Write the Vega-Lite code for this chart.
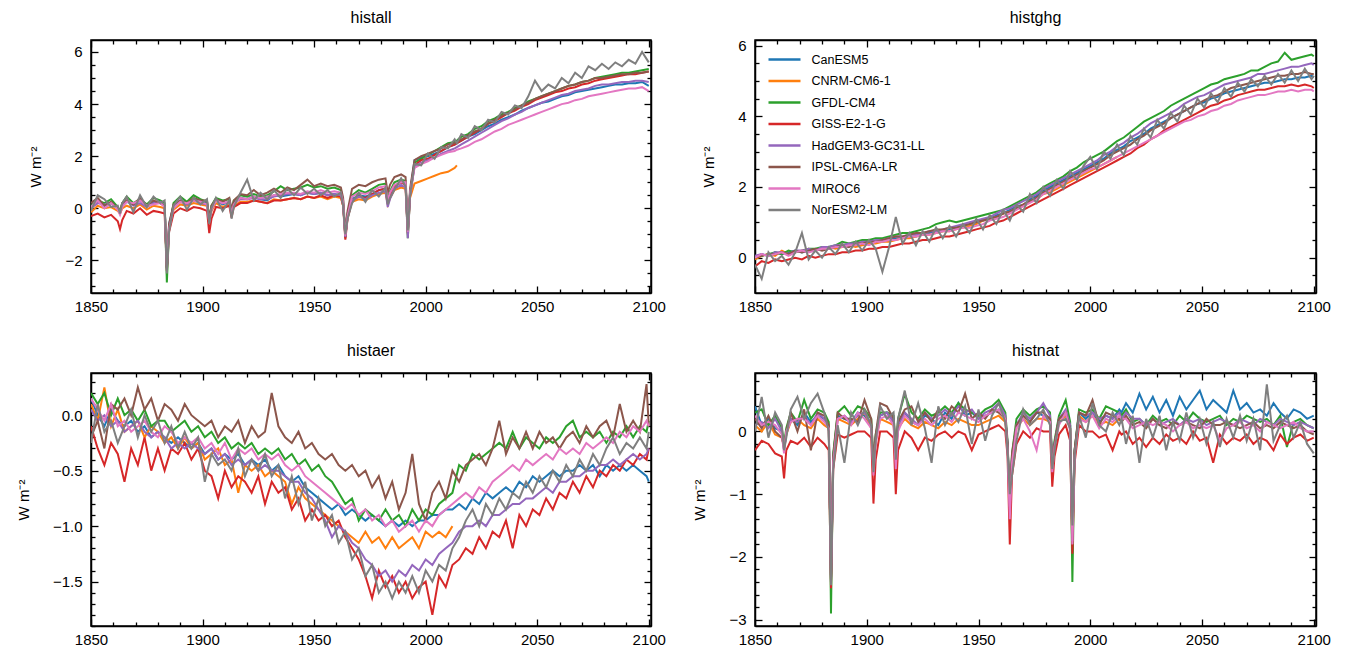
{
"$schema":"https://vega.github.io/schema/vega-lite/v6.json",
"padding":{"left":15,"top":8,"right":5,"bottom":5},
"config":{"font":"Liberation Sans","view":{"stroke":"#000","strokeWidth":1.5},
"axis":{"domainColor":"#000","domainWidth":1.5,"tickColor":"#000","tickWidth":1.3,"labelColor":"#000","labelFontSize":15,"labelFont":"Liberation Sans","titleFont":"Liberation Sans","titleFontSize":15,"titleFontWeight":"normal","titleColor":"#000","grid":false,"labelFlush":false,"labelOverlap":false},
"title":{"fontSize":16,"fontWeight":"normal","color":"#000","font":"Liberation Sans","offset":13}},
"datasets":{
"mods":[{"k":"a","model":"CanESM5"},{"k":"b","model":"CNRM-CM6-1"},{"k":"c","model":"GFDL-CM4"},{"k":"d","model":"GISS-E2-1-G"},{"k":"e","model":"HadGEM3-GC31-LL"},{"k":"f","model":"IPSL-CM6A-LR"},{"k":"g","model":"MIROC6"},{"k":"h","model":"NorESM2-LM"}],
"all":[
{"t":1850,"a":0.05,"b":-0.15,"c":0.1,"d":-0.3,"e":0.0,"f":0.2,"g":0.05,"h":-0.1},
{"t":1853,"a":0.25,"b":0.1,"c":0.3,"d":-0.2,"e":0.2,"f":0.4,"g":0.3,"h":0.5},
{"t":1856,"a":0.1,"b":0.0,"c":0.2,"d":-0.35,"e":0.15,"f":0.1,"g":0.0,"h":0.35},
{"t":1859,"a":0.2,"b":0.05,"c":0.35,"d":-0.25,"e":0.2,"f":0.25,"g":0.2,"h":0.05},
{"t":1862,"a":0.0,"b":-0.1,"c":0.05,"d":-0.5,"e":0.0,"f":0.0,"g":-0.05,"h":0.1},
{"t":1863,"a":-0.15,"b":-0.2,"c":-0.1,"d":-0.8,"e":-0.15,"f":-0.1,"g":-0.25,"h":-0.2},
{"t":1864,"a":0.1,"b":0.0,"c":0.2,"d":-0.45,"e":0.1,"f":0.2,"g":0.05,"h":0.2},
{"t":1866,"a":0.25,"b":0.1,"c":0.45,"d":-0.1,"e":0.3,"f":0.3,"g":0.25,"h":0.45},
{"t":1869,"a":0.15,"b":0.0,"c":0.2,"d":-0.2,"e":0.1,"f":0.15,"g":0.2,"h":-0.15},
{"t":1872,"a":0.3,"b":0.15,"c":0.35,"d":0.0,"e":0.2,"f":0.4,"g":0.3,"h":0.5},
{"t":1875,"a":0.1,"b":-0.05,"c":0.15,"d":-0.25,"e":0.05,"f":0.1,"g":0.1,"h":0.05},
{"t":1878,"a":0.25,"b":0.1,"c":0.4,"d":-0.1,"e":0.2,"f":0.3,"g":0.15,"h":0.45},
{"t":1881,"a":0.2,"b":0.05,"c":0.3,"d":-0.15,"e":0.25,"f":0.2,"g":0.2,"h":0.2},
{"t":1883,"a":0.1,"b":0.0,"c":0.2,"d":-0.2,"e":0.1,"f":0.1,"g":0.05,"h":0.3},
{"t":1884,"a":-2.3,"b":-2.2,"c":-2.85,"d":-2.4,"e":-2.35,"f":-2.3,"g":-2.2,"h":-2.5},
{"t":1885,"a":-0.6,"b":-0.7,"c":-0.8,"d":-0.9,"e":-0.7,"f":-0.6,"g":-0.8,"h":-0.9},
{"t":1887,"a":0.1,"b":-0.05,"c":0.2,"d":-0.2,"e":0.1,"f":0.15,"g":0.0,"h":0.1},
{"t":1890,"a":0.3,"b":0.15,"c":0.45,"d":0.0,"e":0.25,"f":0.3,"g":0.25,"h":0.45},
{"t":1893,"a":0.2,"b":0.1,"c":0.25,"d":-0.1,"e":0.15,"f":0.2,"g":0.2,"h":-0.05},
{"t":1896,"a":0.35,"b":0.2,"c":0.5,"d":0.05,"e":0.3,"f":0.4,"g":0.3,"h":0.4},
{"t":1899,"a":0.25,"b":0.15,"c":0.35,"d":0.0,"e":0.2,"f":0.3,"g":0.25,"h":0.15},
{"t":1902,"a":0.2,"b":0.1,"c":0.25,"d":-0.1,"e":0.15,"f":0.3,"g":0.15,"h":0.35},
{"t":1903,"a":-0.45,"b":-0.5,"c":-0.4,"d":-0.95,"e":-0.5,"f":-0.4,"g":-0.55,"h":-0.6},
{"t":1904,"a":0.0,"b":-0.1,"c":0.1,"d":-0.4,"e":-0.05,"f":0.1,"g":-0.05,"h":0.0},
{"t":1906,"a":0.3,"b":0.2,"c":0.4,"d":0.05,"e":0.3,"f":0.35,"g":0.3,"h":0.4},
{"t":1909,"a":0.15,"b":0.05,"c":0.3,"d":0.0,"e":0.2,"f":0.25,"g":0.2,"h":-0.1},
{"t":1912,"a":0.25,"b":0.15,"c":0.35,"d":0.1,"e":0.25,"f":0.4,"g":0.25,"h":0.3},
{"t":1913,"a":-0.15,"b":-0.2,"c":-0.1,"d":-0.35,"e":-0.2,"f":-0.05,"g":-0.2,"h":-0.4},
{"t":1914,"a":0.2,"b":0.1,"c":0.3,"d":0.05,"e":0.2,"f":0.3,"g":0.15,"h":0.05},
{"t":1917,"a":0.4,"b":0.25,"c":0.5,"d":0.2,"e":0.35,"f":0.55,"g":0.4,"h":0.6},
{"t":1920,"a":0.35,"b":0.25,"c":0.45,"d":0.2,"e":0.35,"f":0.5,"g":0.35,"h":1.1},
{"t":1923,"a":0.45,"b":0.3,"c":0.55,"d":0.3,"e":0.4,"f":0.7,"g":0.45,"h":0.3},
{"t":1926,"a":0.35,"b":0.25,"c":0.45,"d":0.25,"e":0.35,"f":0.5,"g":0.4,"h":0.6},
{"t":1929,"a":0.3,"b":0.2,"c":0.5,"d":0.2,"e":0.35,"f":0.6,"g":0.45,"h":0.35},
{"t":1932,"a":0.5,"b":0.35,"c":0.65,"d":0.3,"e":0.45,"f":0.75,"g":0.5,"h":0.7},
{"t":1935,"a":0.45,"b":0.3,"c":0.85,"d":0.3,"e":0.5,"f":0.6,"g":0.55,"h":0.4},
{"t":1938,"a":0.5,"b":0.35,"c":0.7,"d":0.35,"e":0.55,"f":0.8,"g":0.6,"h":0.75},
{"t":1941,"a":0.55,"b":0.4,"c":0.75,"d":0.4,"e":0.55,"f":0.7,"g":0.6,"h":0.5},
{"t":1944,"a":0.5,"b":0.35,"c":0.8,"d":0.35,"e":0.5,"f":0.9,"g":0.55,"h":0.8},
{"t":1947,"a":0.6,"b":0.45,"c":0.9,"d":0.45,"e":0.6,"f":1.1,"g":0.65,"h":0.55},
{"t":1950,"a":0.55,"b":0.4,"c":0.8,"d":0.4,"e":0.55,"f":0.85,"g":0.6,"h":0.75},
{"t":1953,"a":0.6,"b":0.45,"c":0.85,"d":0.5,"e":0.6,"f":0.95,"g":0.7,"h":0.5},
{"t":1956,"a":0.5,"b":0.35,"c":0.75,"d":0.4,"e":0.5,"f":0.85,"g":0.6,"h":0.7},
{"t":1959,"a":0.55,"b":0.45,"c":0.8,"d":0.5,"e":0.55,"f":0.9,"g":0.65,"h":0.45},
{"t":1962,"a":0.5,"b":0.4,"c":0.7,"d":0.45,"e":0.5,"f":0.8,"g":0.6,"h":0.6},
{"t":1963,"a":0.2,"b":0.1,"c":0.3,"d":0.1,"e":0.15,"f":0.4,"g":0.25,"h":0.1},
{"t":1964,"a":-1.1,"b":-1.0,"c":-1.15,"d":-1.2,"e":-1.1,"f":-0.9,"g":-1.05,"h":-1.0},
{"t":1965,"a":-0.3,"b":-0.35,"c":-0.2,"d":-0.4,"e":-0.35,"f":-0.1,"g":-0.3,"h":-0.4},
{"t":1967,"a":0.35,"b":0.25,"c":0.5,"d":0.3,"e":0.3,"f":0.75,"g":0.45,"h":0.2},
{"t":1970,"a":0.5,"b":0.35,"c":0.7,"d":0.45,"e":0.45,"f":0.9,"g":0.6,"h":0.6},
{"t":1973,"a":0.45,"b":0.3,"c":0.6,"d":0.4,"e":0.35,"f":0.85,"g":0.55,"h":0.25},
{"t":1976,"a":0.55,"b":0.45,"c":0.75,"d":0.55,"e":0.5,"f":1.0,"g":0.65,"h":0.7},
{"t":1979,"a":0.7,"b":0.55,"c":0.9,"d":0.7,"e":0.6,"f":1.1,"g":0.8,"h":0.45},
{"t":1982,"a":0.75,"b":0.6,"c":0.95,"d":0.75,"e":0.65,"f":1.15,"g":0.85,"h":0.8},
{"t":1983,"a":0.25,"b":0.15,"c":0.4,"d":0.2,"e":0.05,"f":0.6,"g":0.3,"h":0.15},
{"t":1984,"a":0.5,"b":0.4,"c":0.65,"d":0.5,"e":0.35,"f":0.9,"g":0.6,"h":0.4},
{"t":1986,"a":0.85,"b":0.7,"c":1.0,"d":0.85,"e":0.75,"f":1.2,"g":0.9,"h":0.7},
{"t":1989,"a":1.0,"b":0.8,"c":1.1,"d":1.0,"e":0.9,"f":1.3,"g":1.0,"h":1.15},
{"t":1991,"a":0.95,"b":0.75,"c":1.05,"d":0.9,"e":0.8,"f":1.2,"g":1.0,"h":0.85},
{"t":1992,"a":-0.9,"b":-1.0,"c":-1.15,"d":-0.95,"e":-1.15,"f":-0.8,"g":-0.9,"h":-0.85},
{"t":1993,"a":0.6,"b":0.4,"c":0.5,"d":0.55,"e":0.45,"f":0.75,"g":0.6,"h":0.5},
{"t":1995,"a":1.85,"b":0.95,"c":1.75,"d":1.65,"e":1.6,"f":1.85,"g":1.55,"h":1.7},
{"t":1998,"a":1.95,"b":1.05,"c":1.9,"d":1.85,"e":1.75,"f":2.0,"g":1.7,"h":1.65},
{"t":2001,"a":2.0,"b":1.15,"c":2.05,"d":1.9,"e":1.85,"f":2.1,"g":1.8,"h":2.1},
{"t":2004,"a":2.1,"b":1.25,"c":2.2,"d":2.05,"e":1.95,"f":2.2,"g":1.95,"h":1.9},
{"t":2007,"a":2.2,"b":1.35,"c":2.35,"d":2.2,"e":2.1,"f":2.3,"g":2.05,"h":2.35},
{"t":2010,"a":2.35,"b":1.4,"c":2.5,"d":2.35,"e":2.2,"f":2.45,"g":2.15,"h":2.3},
{"t":2013,"a":2.45,"b":1.55,"c":2.55,"d":2.45,"e":2.3,"f":2.5,"g":2.2,"h":2.65},
{"t":2014,"a":2.5,"b":1.65,"c":2.6,"d":2.5,"e":2.35,"f":2.55,"g":2.25,"h":2.5},
{"t":2016,"a":2.6,"c":2.75,"d":2.6,"e":2.45,"f":2.65,"g":2.3,"h":2.85},
{"t":2019,"a":2.75,"c":2.85,"d":2.75,"e":2.6,"f":2.8,"g":2.4,"h":2.7},
{"t":2022,"a":2.85,"c":3.05,"d":2.9,"e":2.75,"f":2.95,"g":2.55,"h":3.15},
{"t":2025,"a":3.0,"c":3.15,"d":3.05,"e":2.9,"f":3.05,"g":2.65,"h":3.0},
{"t":2028,"a":3.15,"c":3.35,"d":3.25,"e":3.05,"f":3.25,"g":2.8,"h":3.4},
{"t":2031,"a":3.25,"c":3.45,"d":3.35,"e":3.2,"f":3.4,"g":2.95,"h":3.3},
{"t":2034,"a":3.4,"c":3.6,"d":3.5,"e":3.35,"f":3.55,"g":3.05,"h":3.7},
{"t":2037,"a":3.5,"c":3.7,"d":3.65,"e":3.45,"f":3.65,"g":3.2,"h":3.6},
{"t":2040,"a":3.6,"c":3.85,"d":3.75,"e":3.6,"f":3.8,"g":3.3,"h":3.95},
{"t":2043,"a":3.75,"c":3.95,"d":3.9,"e":3.7,"f":3.95,"g":3.4,"h":3.85},
{"t":2046,"a":3.85,"c":4.1,"d":4.0,"e":3.85,"f":4.05,"g":3.5,"h":4.3},
{"t":2049,"a":3.95,"c":4.2,"d":4.15,"e":3.95,"f":4.2,"g":3.6,"h":4.9},
{"t":2052,"a":4.05,"c":4.3,"d":4.25,"e":4.05,"f":4.3,"g":3.7,"h":4.5},
{"t":2055,"a":4.1,"c":4.4,"d":4.35,"e":4.15,"f":4.4,"g":3.8,"h":4.75},
{"t":2058,"a":4.2,"c":4.5,"d":4.45,"e":4.25,"f":4.5,"g":3.9,"h":4.6},
{"t":2061,"a":4.3,"c":4.6,"d":4.5,"e":4.35,"f":4.6,"g":4.0,"h":5.0},
{"t":2064,"a":4.35,"c":4.7,"d":4.6,"e":4.4,"f":4.7,"g":4.05,"h":4.8},
{"t":2067,"a":4.45,"c":4.75,"d":4.65,"e":4.5,"f":4.75,"g":4.15,"h":5.2},
{"t":2070,"a":4.5,"c":4.85,"d":4.75,"e":4.55,"f":4.85,"g":4.2,"h":5.0},
{"t":2073,"a":4.55,"c":4.9,"d":4.8,"e":4.6,"f":4.9,"g":4.3,"h":5.45},
{"t":2076,"a":4.6,"c":5.0,"d":4.9,"e":4.7,"f":5.0,"g":4.35,"h":5.3},
{"t":2079,"a":4.65,"c":5.05,"d":4.95,"e":4.75,"f":5.0,"g":4.4,"h":5.55},
{"t":2082,"a":4.7,"c":5.1,"d":5.0,"e":4.75,"f":5.05,"g":4.45,"h":5.35},
{"t":2085,"a":4.75,"c":5.15,"d":5.05,"e":4.8,"f":5.1,"g":4.5,"h":5.6},
{"t":2088,"a":4.75,"c":5.2,"d":5.1,"e":4.85,"f":5.15,"g":4.55,"h":5.45},
{"t":2091,"a":4.8,"c":5.2,"d":5.15,"e":4.85,"f":5.15,"g":4.6,"h":5.7},
{"t":2094,"a":4.8,"c":5.25,"d":5.15,"e":4.9,"f":5.2,"g":4.6,"h":5.55},
{"t":2097,"a":4.85,"c":5.3,"d":5.2,"e":4.9,"f":5.2,"g":4.65,"h":6.0},
{"t":2100,"a":4.7,"c":5.35,"d":5.25,"e":4.85,"f":5.25,"g":4.5,"h":5.6}],
"ghg":[
{"t":1850,"a":0.0,"b":-0.05,"c":0.05,"d":-0.25,"e":0.05,"f":0.0,"g":0.0,"h":-0.2},
{"t":1853,"a":0.1,"b":0.05,"c":0.05,"d":-0.1,"e":0.1,"f":0.05,"g":0.1,"h":-0.6},
{"t":1856,"a":0.05,"b":0.1,"c":0.1,"d":-0.15,"e":0.05,"f":0.1,"g":0.05,"h":0.15},
{"t":1859,"a":0.15,"b":0.05,"c":0.15,"d":-0.05,"e":0.15,"f":0.1,"g":0.1,"h":-0.1},
{"t":1862,"a":0.1,"b":0.2,"c":0.1,"d":-0.1,"e":0.15,"f":0.15,"g":0.15,"h":0.05},
{"t":1865,"a":0.15,"b":0.1,"c":0.2,"d":-0.05,"e":0.1,"f":0.1,"g":0.05,"h":-0.2},
{"t":1868,"a":0.2,"b":0.15,"c":0.15,"d":0.0,"e":0.2,"f":0.2,"g":0.15,"h":0.15},
{"t":1871,"a":0.15,"b":0.2,"c":0.2,"d":-0.05,"e":0.2,"f":0.15,"g":0.2,"h":0.7},
{"t":1874,"a":0.2,"b":0.25,"c":0.25,"d":0.05,"e":0.25,"f":0.2,"g":0.15,"h":-0.05},
{"t":1877,"a":0.2,"b":0.2,"c":0.25,"d":0.0,"e":0.2,"f":0.25,"g":0.2,"h":0.2},
{"t":1880,"a":0.25,"b":0.25,"c":0.3,"d":0.05,"e":0.3,"f":0.2,"g":0.25,"h":0.0},
{"t":1883,"a":0.25,"b":0.3,"c":0.3,"d":0.1,"e":0.3,"f":0.25,"g":0.25,"h":0.3},
{"t":1886,"a":0.3,"b":0.25,"c":0.35,"d":0.1,"e":0.35,"f":0.3,"g":0.3,"h":0.1},
{"t":1889,"a":0.3,"b":0.3,"c":0.45,"d":0.15,"e":0.35,"f":0.35,"g":0.3,"h":0.4},
{"t":1892,"a":0.35,"b":0.35,"c":0.4,"d":0.15,"e":0.4,"f":0.3,"g":0.35,"h":0.15},
{"t":1895,"a":0.35,"b":0.3,"c":0.45,"d":0.2,"e":0.4,"f":0.4,"g":0.35,"h":0.45},
{"t":1898,"a":0.4,"b":0.35,"c":0.5,"d":0.2,"e":0.45,"f":0.4,"g":0.4,"h":0.2},
{"t":1901,"a":0.4,"b":0.4,"c":0.5,"d":0.25,"e":0.45,"f":0.45,"g":0.35,"h":0.5},
{"t":1904,"a":0.45,"b":0.4,"c":0.55,"d":0.25,"e":0.5,"f":0.45,"g":0.45,"h":0.25},
{"t":1907,"a":0.45,"b":0.45,"c":0.55,"d":0.3,"e":0.5,"f":0.5,"g":0.45,"h":-0.4},
{"t":1910,"a":0.5,"b":0.45,"c":0.6,"d":0.3,"e":0.55,"f":0.55,"g":0.5,"h":0.3},
{"t":1913,"a":0.55,"b":0.5,"c":0.65,"d":0.35,"e":0.6,"f":0.6,"g":0.5,"h":1.15},
{"t":1916,"a":0.55,"b":0.55,"c":0.7,"d":0.4,"e":0.6,"f":0.6,"g":0.55,"h":0.4},
{"t":1919,"a":0.6,"b":0.55,"c":0.7,"d":0.4,"e":0.65,"f":0.65,"g":0.6,"h":0.7},
{"t":1922,"a":0.6,"b":0.6,"c":0.75,"d":0.45,"e":0.65,"f":0.7,"g":0.6,"h":0.35},
{"t":1925,"a":0.65,"b":0.65,"c":0.8,"d":0.5,"e":0.7,"f":0.7,"g":0.65,"h":0.75},
{"t":1928,"a":0.7,"b":0.65,"c":0.85,"d":0.5,"e":0.75,"f":0.75,"g":0.65,"h":0.45},
{"t":1931,"a":0.75,"b":0.7,"c":0.95,"d":0.55,"e":0.75,"f":0.8,"g":0.7,"h":0.85},
{"t":1934,"a":0.75,"b":0.75,"c":1.0,"d":0.6,"e":0.8,"f":0.8,"g":0.75,"h":0.55},
{"t":1937,"a":0.8,"b":0.75,"c":1.05,"d":0.6,"e":0.85,"f":0.85,"g":0.75,"h":0.9},
{"t":1940,"a":0.85,"b":0.8,"c":1.0,"d":0.65,"e":0.9,"f":0.85,"g":0.8,"h":0.6},
{"t":1943,"a":0.9,"b":0.85,"c":1.05,"d":0.7,"e":0.95,"f":0.9,"g":0.85,"h":0.95},
{"t":1946,"a":0.95,"b":0.9,"c":1.1,"d":0.75,"e":1.0,"f":0.95,"g":0.85,"h":0.7},
{"t":1949,"a":1.0,"b":0.95,"c":1.15,"d":0.8,"e":1.05,"f":1.0,"g":0.9,"h":1.1},
{"t":1952,"a":1.05,"b":1.05,"c":1.2,"d":0.85,"e":1.1,"f":1.05,"g":0.95,"h":0.8},
{"t":1955,"a":1.1,"b":1.1,"c":1.25,"d":0.9,"e":1.15,"f":1.1,"g":1.05,"h":1.2},
{"t":1958,"a":1.2,"b":1.15,"c":1.3,"d":1.0,"e":1.25,"f":1.15,"g":1.1,"h":0.95},
{"t":1961,"a":1.25,"b":1.25,"c":1.35,"d":1.05,"e":1.35,"f":1.25,"g":1.15,"h":1.35},
{"t":1964,"a":1.35,"b":1.3,"c":1.45,"d":1.15,"e":1.4,"f":1.3,"g":1.25,"h":1.05},
{"t":1967,"a":1.45,"b":1.4,"c":1.55,"d":1.25,"e":1.5,"f":1.4,"g":1.35,"h":1.5},
{"t":1970,"a":1.5,"b":1.5,"c":1.65,"d":1.35,"e":1.6,"f":1.5,"g":1.45,"h":1.3},
{"t":1973,"a":1.65,"b":1.6,"c":1.75,"d":1.45,"e":1.7,"f":1.6,"g":1.55,"h":1.8},
{"t":1976,"a":1.75,"b":1.65,"c":1.85,"d":1.55,"e":1.8,"f":1.7,"g":1.65,"h":1.55},
{"t":1979,"a":1.9,"b":1.8,"c":2.0,"d":1.65,"e":1.95,"f":1.85,"g":1.8,"h":2.0},
{"t":1982,"a":2.0,"b":1.85,"c":2.1,"d":1.75,"e":2.05,"f":1.95,"g":1.9,"h":1.75},
{"t":1985,"a":2.1,"b":1.95,"c":2.2,"d":1.85,"e":2.15,"f":2.05,"g":2.0,"h":2.2},
{"t":1988,"a":2.2,"b":2.05,"c":2.3,"d":1.95,"e":2.25,"f":2.15,"g":2.1,"h":1.95},
{"t":1991,"a":2.3,"b":2.15,"c":2.45,"d":2.05,"e":2.35,"f":2.25,"g":2.2,"h":2.45},
{"t":1994,"a":2.4,"b":2.25,"c":2.55,"d":2.15,"e":2.45,"f":2.35,"g":2.3,"h":2.2},
{"t":1997,"a":2.5,"b":2.35,"c":2.7,"d":2.25,"e":2.55,"f":2.45,"g":2.4,"h":2.6},
{"t":2000,"a":2.6,"b":2.45,"c":2.8,"d":2.35,"e":2.65,"f":2.55,"g":2.5,"h":2.85},
{"t":2003,"a":2.7,"b":2.55,"c":2.9,"d":2.45,"e":2.75,"f":2.65,"g":2.55,"h":2.5},
{"t":2006,"a":2.8,"b":2.65,"c":3.0,"d":2.55,"e":2.9,"f":2.75,"g":2.65,"h":3.0},
{"t":2009,"a":2.95,"b":2.75,"c":3.15,"d":2.65,"e":3.0,"f":2.9,"g":2.75,"h":2.8},
{"t":2012,"a":3.05,"b":2.85,"c":3.3,"d":2.75,"e":3.15,"f":3.0,"g":2.85,"h":3.2},
{"t":2015,"a":3.15,"c":3.4,"d":2.85,"e":3.25,"f":3.1,"g":2.95,"h":2.9},
{"t":2018,"a":3.3,"c":3.55,"d":2.95,"e":3.4,"f":3.2,"g":3.05,"h":3.45},
{"t":2021,"a":3.4,"c":3.7,"d":3.1,"e":3.5,"f":3.35,"g":3.15,"h":3.2},
{"t":2024,"a":3.5,"c":3.85,"d":3.2,"e":3.65,"f":3.45,"g":3.25,"h":3.65},
{"t":2027,"a":3.65,"c":3.95,"d":3.35,"e":3.8,"f":3.6,"g":3.35,"h":3.4},
{"t":2030,"a":3.75,"c":4.05,"d":3.45,"e":3.9,"f":3.7,"g":3.45,"h":3.9},
{"t":2033,"a":3.85,"c":4.15,"d":3.6,"e":4.0,"f":3.8,"g":3.55,"h":3.65},
{"t":2036,"a":3.95,"c":4.3,"d":3.7,"e":4.1,"f":3.95,"g":3.65,"h":4.1},
{"t":2039,"a":4.05,"c":4.4,"d":3.8,"e":4.2,"f":4.05,"g":3.75,"h":3.85},
{"t":2042,"a":4.15,"c":4.5,"d":3.9,"e":4.35,"f":4.15,"g":3.85,"h":4.3},
{"t":2045,"a":4.25,"c":4.6,"d":4.0,"e":4.45,"f":4.25,"g":3.9,"h":4.05},
{"t":2048,"a":4.35,"c":4.7,"d":4.1,"e":4.55,"f":4.35,"g":4.0,"h":4.5},
{"t":2051,"a":4.4,"c":4.8,"d":4.2,"e":4.6,"f":4.45,"g":4.05,"h":4.25},
{"t":2054,"a":4.5,"c":4.9,"d":4.3,"e":4.7,"f":4.55,"g":4.15,"h":4.65},
{"t":2057,"a":4.55,"c":4.95,"d":4.35,"e":4.8,"f":4.6,"g":4.2,"h":4.4},
{"t":2060,"a":4.65,"c":5.05,"d":4.45,"e":4.9,"f":4.7,"g":4.3,"h":4.8},
{"t":2063,"a":4.7,"c":5.1,"d":4.5,"e":4.95,"f":4.8,"g":4.35,"h":4.55},
{"t":2066,"a":4.75,"c":5.15,"d":4.6,"e":5.0,"f":4.85,"g":4.45,"h":4.95},
{"t":2069,"a":4.8,"c":5.2,"d":4.65,"e":5.05,"f":4.9,"g":4.5,"h":4.7},
{"t":2072,"a":4.85,"c":5.3,"d":4.7,"e":5.1,"f":4.95,"g":4.55,"h":5.05},
{"t":2075,"a":4.9,"c":5.3,"d":4.75,"e":5.2,"f":5.0,"g":4.6,"h":4.85},
{"t":2078,"a":4.95,"c":5.4,"d":4.75,"e":5.2,"f":5.05,"g":4.6,"h":5.15},
{"t":2081,"a":4.95,"c":5.5,"d":4.8,"e":5.25,"f":5.1,"g":4.65,"h":4.9},
{"t":2084,"a":5.0,"c":5.55,"d":4.85,"e":5.3,"f":5.15,"g":4.7,"h":5.2},
{"t":2087,"a":5.05,"c":5.8,"d":4.85,"e":5.35,"f":5.15,"g":4.7,"h":4.95},
{"t":2090,"a":5.05,"c":5.6,"d":4.9,"e":5.4,"f":5.2,"g":4.75,"h":5.3},
{"t":2093,"a":5.1,"c":5.65,"d":4.85,"e":5.4,"f":5.2,"g":4.7,"h":5.0},
{"t":2096,"a":5.1,"c":5.7,"d":4.9,"e":5.45,"f":5.25,"g":4.75,"h":5.35},
{"t":2099,"a":5.15,"c":5.75,"d":4.85,"e":5.5,"f":5.2,"g":4.75,"h":5.05},
{"t":2100,"a":5.1,"c":5.7,"d":4.8,"e":5.45,"f":5.2,"g":4.7,"h":5.15}],
"aer":[
{"t":1850,"a":0.15,"b":0.1,"c":0.2,"d":-0.1,"e":0.05,"f":-0.2,"g":0.15,"h":-0.25},
{"t":1853,"a":0.0,"b":-0.05,"c":0.1,"d":-0.3,"e":-0.05,"f":-0.05,"g":0.05,"h":0.1},
{"t":1856,"a":-0.1,"b":0.25,"c":0.2,"d":-0.45,"e":0.0,"f":-0.3,"g":-0.05,"h":-0.15},
{"t":1859,"a":0.05,"b":-0.1,"c":0.0,"d":-0.25,"e":-0.1,"f":0.1,"g":0.1,"h":-0.05},
{"t":1862,"a":-0.05,"b":0.05,"c":0.15,"d":-0.35,"e":-0.05,"f":0.05,"g":-0.1,"h":-0.25},
{"t":1865,"a":-0.1,"b":-0.15,"c":0.0,"d":-0.6,"e":-0.15,"f":0.15,"g":-0.05,"h":-0.1},
{"t":1868,"a":-0.05,"b":-0.1,"c":0.05,"d":-0.3,"e":-0.1,"f":0.0,"g":-0.15,"h":0.05},
{"t":1871,"a":-0.15,"b":-0.05,"c":-0.05,"d":-0.45,"e":-0.05,"f":0.25,"g":-0.1,"h":-0.2},
{"t":1874,"a":-0.1,"b":-0.2,"c":0.05,"d":-0.2,"e":-0.15,"f":0.05,"g":-0.05,"h":0.0},
{"t":1877,"a":-0.2,"b":-0.1,"c":-0.1,"d":-0.5,"e":-0.2,"f":0.15,"g":-0.15,"h":-0.15},
{"t":1880,"a":-0.15,"b":-0.15,"c":-0.05,"d":-0.3,"e":-0.15,"f":-0.05,"g":-0.2,"h":-0.05},
{"t":1883,"a":-0.2,"b":-0.25,"c":-0.05,"d":-0.5,"e":-0.2,"f":0.1,"g":-0.1,"h":-0.25},
{"t":1886,"a":-0.25,"b":-0.2,"c":-0.15,"d":-0.3,"e":-0.3,"f":0.05,"g":-0.15,"h":-0.1},
{"t":1889,"a":-0.2,"b":-0.3,"c":-0.1,"d":-0.35,"e":-0.25,"f":-0.05,"g":-0.25,"h":-0.3},
{"t":1892,"a":-0.25,"b":-0.2,"c":-0.05,"d":-0.25,"e":-0.3,"f":0.1,"g":-0.2,"h":-0.15},
{"t":1895,"a":-0.3,"b":-0.3,"c":-0.15,"d":-0.4,"e":-0.25,"f":0.0,"g":-0.25,"h":-0.3},
{"t":1898,"a":-0.25,"b":-0.25,"c":-0.1,"d":-0.3,"e":-0.3,"f":-0.05,"g":-0.2,"h":-0.2},
{"t":1901,"a":-0.35,"b":-0.4,"c":-0.2,"d":-0.5,"e":-0.35,"f":-0.1,"g":-0.3,"h":-0.6},
{"t":1904,"a":-0.3,"b":-0.35,"c":-0.15,"d":-0.55,"e":-0.3,"f":-0.05,"g":-0.25,"h":-0.35},
{"t":1907,"a":-0.4,"b":-0.3,"c":-0.25,"d":-0.75,"e":-0.4,"f":-0.2,"g":-0.35,"h":-0.45},
{"t":1910,"a":-0.35,"b":-0.45,"c":-0.2,"d":-0.5,"e":-0.35,"f":-0.1,"g":-0.25,"h":-0.4},
{"t":1913,"a":-0.4,"b":-0.4,"c":-0.3,"d":-0.65,"e":-0.45,"f":-0.15,"g":-0.4,"h":-0.5},
{"t":1916,"a":-0.35,"b":-0.7,"c":-0.25,"d":-0.55,"e":-0.4,"f":-0.05,"g":-0.3,"h":-0.3},
{"t":1919,"a":-0.45,"b":-0.45,"c":-0.3,"d":-0.6,"e":-0.45,"f":-0.25,"g":-0.35,"h":-0.55},
{"t":1922,"a":-0.4,"b":-0.5,"c":-0.25,"d":-0.7,"e":-0.4,"f":-0.1,"g":-0.3,"h":-0.4},
{"t":1925,"a":-0.45,"b":-0.45,"c":-0.35,"d":-0.55,"e":-0.5,"f":-0.2,"g":-0.4,"h":-0.5},
{"t":1928,"a":-0.4,"b":-0.55,"c":-0.3,"d":-0.8,"e":-0.45,"f":-0.15,"g":-0.35,"h":-0.35},
{"t":1931,"a":-0.5,"b":-0.5,"c":-0.35,"d":-0.6,"e":-0.5,"f":0.2,"g":-0.4,"h":-0.55},
{"t":1934,"a":-0.45,"b":-0.55,"c":-0.3,"d":-0.7,"e":-0.5,"f":-0.1,"g":-0.35,"h":-0.45},
{"t":1937,"a":-0.55,"b":-0.6,"c":-0.4,"d":-0.65,"e":-0.55,"f":-0.2,"g":-0.45,"h":-0.75},
{"t":1940,"a":-0.6,"b":-0.8,"c":-0.35,"d":-0.85,"e":-0.6,"f":-0.25,"g":-0.5,"h":-0.55},
{"t":1943,"a":-0.55,"b":-0.65,"c":-0.45,"d":-0.75,"e":-0.6,"f":-0.15,"g":-0.45,"h":-0.8},
{"t":1946,"a":-0.65,"b":-0.75,"c":-0.4,"d":-0.95,"e":-0.7,"f":-0.3,"g":-0.55,"h":-0.6},
{"t":1949,"a":-0.7,"b":-0.8,"c":-0.5,"d":-0.85,"e":-0.75,"f":-0.25,"g":-0.6,"h":-0.95},
{"t":1952,"a":-0.75,"b":-0.85,"c":-0.45,"d":-0.95,"e":-0.85,"f":-0.35,"g":-0.65,"h":-0.75},
{"t":1955,"a":-0.8,"b":-0.9,"c":-0.55,"d":-0.9,"e":-0.95,"f":-0.4,"g":-0.7,"h":-1.0},
{"t":1958,"a":-0.85,"b":-0.95,"c":-0.6,"d":-1.0,"e":-1.1,"f":-0.35,"g":-0.75,"h":-0.9},
{"t":1961,"a":-0.8,"b":-1.0,"c":-0.7,"d":-0.95,"e":-1.0,"f":-0.45,"g":-0.8,"h":-1.15},
{"t":1964,"a":-0.9,"b":-1.05,"c":-0.8,"d":-1.1,"e":-1.05,"f":-0.5,"g":-0.85,"h":-1.05},
{"t":1967,"a":-0.85,"b":-1.1,"c":-0.75,"d":-1.2,"e":-1.15,"f":-0.45,"g":-0.8,"h":-1.3},
{"t":1970,"a":-0.9,"b":-1.15,"c":-0.95,"d":-1.3,"e":-1.2,"f":-0.55,"g":-0.9,"h":-1.2},
{"t":1973,"a":-0.95,"b":-1.05,"c":-0.85,"d":-1.45,"e":-1.3,"f":-0.5,"g":-0.85,"h":-1.45},
{"t":1976,"a":-0.9,"b":-1.15,"c":-0.9,"d":-1.65,"e":-1.35,"f":-0.65,"g":-0.95,"h":-1.35},
{"t":1979,"a":-0.95,"b":-1.1,"c":-0.95,"d":-1.4,"e":-1.45,"f":-0.55,"g":-0.9,"h":-1.6},
{"t":1982,"a":-1.0,"b":-1.2,"c":-0.85,"d":-1.55,"e":-1.4,"f":-0.75,"g":-1.0,"h":-1.5},
{"t":1985,"a":-0.95,"b":-1.1,"c":-0.95,"d":-1.45,"e":-1.5,"f":-0.6,"g":-0.95,"h":-1.65},
{"t":1988,"a":-1.0,"b":-1.2,"c":-0.9,"d":-1.6,"e":-1.4,"f":-0.85,"g":-1.05,"h":-1.5},
{"t":1991,"a":-0.95,"b":-1.15,"c":-1.0,"d":-1.5,"e":-1.45,"f":-0.7,"g":-1.0,"h":-1.6},
{"t":1994,"a":-1.0,"b":-1.1,"c":-0.85,"d":-1.65,"e":-1.35,"f":-0.35,"g":-0.95,"h":-1.45},
{"t":1997,"a":-0.95,"b":-1.2,"c":-0.95,"d":-1.55,"e":-1.4,"f":-0.8,"g":-1.05,"h":-1.6},
{"t":2000,"a":-0.95,"b":-1.05,"c":-0.85,"d":-1.5,"e":-1.3,"f":-0.95,"g":-0.95,"h":-1.4},
{"t":2003,"a":-0.9,"b":-1.1,"c":-0.9,"d":-1.8,"e":-1.35,"f":-0.7,"g":-1.0,"h":-1.5},
{"t":2006,"a":-0.9,"b":-1.05,"c":-0.8,"d":-1.45,"e":-1.25,"f":-0.6,"g":-0.9,"h":-1.35},
{"t":2009,"a":-0.85,"b":-1.1,"c":-0.75,"d":-1.55,"e":-1.2,"f":-0.75,"g":-0.85,"h":-1.4},
{"t":2012,"a":-0.85,"b":-1.0,"c":-0.7,"d":-1.35,"e":-1.15,"f":-0.5,"g":-0.8,"h":-1.2},
{"t":2015,"a":-0.8,"c":-0.45,"d":-1.3,"e":-1.05,"f":-0.6,"g":-0.75,"h":-1.1},
{"t":2018,"a":-0.85,"c":-0.5,"d":-1.2,"e":-1.0,"f":-0.45,"g":-0.7,"h":-0.95},
{"t":2021,"a":-0.75,"c":-0.35,"d":-1.25,"e":-1.0,"f":-0.4,"g":-0.75,"h":-0.85},
{"t":2024,"a":-0.8,"c":-0.4,"d":-1.1,"e":-0.95,"f":-0.35,"g":-0.65,"h":-1.0},
{"t":2027,"a":-0.7,"c":-0.35,"d":-1.2,"e":-1.0,"f":-0.45,"g":-0.7,"h":-0.8},
{"t":2030,"a":-0.75,"c":-0.3,"d":-1.05,"e":-0.9,"f":-0.3,"g":-0.6,"h":-0.9},
{"t":2033,"a":-0.7,"c":-0.25,"d":-1.1,"e":-0.9,"f":-0.05,"g":-0.55,"h":-0.75},
{"t":2036,"a":-0.65,"c":-0.3,"d":-0.95,"e":-0.85,"f":-0.35,"g":-0.5,"h":-0.85},
{"t":2039,"a":-0.7,"c":-0.15,"d":-1.2,"e":-0.8,"f":-0.2,"g":-0.45,"h":-0.7},
{"t":2042,"a":-0.6,"c":-0.3,"d":-0.9,"e":-0.8,"f":-0.3,"g":-0.5,"h":-0.75},
{"t":2045,"a":-0.65,"c":-0.2,"d":-1.0,"e":-0.75,"f":-0.15,"g":-0.4,"h":-0.6},
{"t":2048,"a":-0.55,"c":-0.25,"d":-0.85,"e":-0.75,"f":-0.3,"g":-0.45,"h":-0.7},
{"t":2051,"a":-0.6,"c":-0.3,"d":-0.9,"e":-0.7,"f":-0.15,"g":-0.4,"h":-0.55},
{"t":2054,"a":-0.55,"c":-0.2,"d":-0.75,"e":-0.65,"f":-0.25,"g":-0.35,"h":-0.65},
{"t":2057,"a":-0.5,"c":-0.25,"d":-0.85,"e":-0.7,"f":-0.2,"g":-0.4,"h":-0.5},
{"t":2060,"a":-0.55,"c":-0.2,"d":-0.7,"e":-0.6,"f":-0.3,"g":-0.3,"h":-0.6},
{"t":2063,"a":-0.5,"c":-0.1,"d":-0.75,"e":-0.6,"f":-0.2,"g":-0.35,"h":-0.45},
{"t":2066,"a":-0.5,"c":-0.05,"d":-0.6,"e":-0.55,"f":-0.15,"g":-0.3,"h":-0.55},
{"t":2069,"a":-0.45,"c":-0.2,"d":-0.7,"e":-0.55,"f":-0.25,"g":-0.35,"h":-0.4},
{"t":2072,"a":-0.5,"c":-0.15,"d":-0.55,"e":-0.5,"f":-0.1,"g":-0.25,"h":-0.5},
{"t":2075,"a":-0.45,"c":-0.2,"d":-0.65,"e":-0.5,"f":-0.2,"g":-0.3,"h":-0.35},
{"t":2078,"a":-0.55,"c":-0.15,"d":-0.5,"e":-0.45,"f":-0.1,"g":-0.25,"h":-0.45},
{"t":2081,"a":-0.45,"c":-0.25,"d":-0.55,"e":-0.45,"f":-0.05,"g":-0.2,"h":-0.3},
{"t":2084,"a":-0.5,"c":-0.15,"d":-0.45,"e":-0.4,"f":-0.2,"g":-0.25,"h":-0.2},
{"t":2087,"a":-0.45,"c":-0.2,"d":-0.5,"e":-0.45,"f":0.1,"g":-0.15,"h":-0.35},
{"t":2090,"a":-0.5,"c":-0.1,"d":-0.4,"e":-0.4,"f":-0.15,"g":-0.2,"h":-0.25},
{"t":2093,"a":-0.45,"c":-0.2,"d":-0.45,"e":-0.35,"f":-0.05,"g":-0.1,"h":-0.3},
{"t":2096,"a":-0.5,"c":-0.1,"d":-0.35,"e":-0.4,"f":-0.15,"g":-0.15,"h":-0.2},
{"t":2099,"a":-0.55,"c":-0.15,"d":-0.4,"e":-0.35,"f":0.28,"g":-0.05,"h":-0.3},
{"t":2100,"a":-0.6,"c":-0.05,"d":-0.3,"e":-0.3,"f":-0.1,"g":-0.1,"h":-0.15}],
"nat":[
{"t":1850,"a":0.4,"b":0.1,"c":0.3,"d":-0.3,"e":0.1,"f":0.2,"g":0.25,"h":0.0},
{"t":1853,"a":0.1,"b":0.0,"c":0.35,"d":-0.15,"e":0.15,"f":0.05,"g":0.1,"h":0.55},
{"t":1856,"a":0.2,"b":0.15,"c":0.1,"d":-0.2,"e":0.05,"f":0.25,"g":0.15,"h":-0.1},
{"t":1859,"a":0.05,"b":-0.05,"c":0.25,"d":-0.35,"e":0.2,"f":0.0,"g":0.1,"h":0.3},
{"t":1862,"a":0.0,"b":-0.1,"c":0.05,"d":-0.4,"e":0.0,"f":-0.1,"g":-0.05,"h":0.1},
{"t":1863,"a":-0.3,"b":-0.25,"c":-0.2,"d":-0.75,"e":-0.3,"f":-0.25,"g":-0.35,"h":-0.3},
{"t":1864,"a":0.0,"b":-0.05,"c":0.05,"d":-0.3,"e":-0.05,"f":0.0,"g":0.0,"h":-0.1},
{"t":1866,"a":0.2,"b":0.15,"c":0.3,"d":-0.15,"e":0.2,"f":0.3,"g":0.15,"h":0.35},
{"t":1869,"a":0.1,"b":0.2,"c":0.15,"d":-0.2,"e":0.15,"f":0.0,"g":0.2,"h":0.55},
{"t":1872,"a":0.3,"b":0.1,"c":0.5,"d":-0.1,"e":0.25,"f":0.35,"g":0.2,"h":0.2},
{"t":1875,"a":0.15,"b":0.05,"c":0.2,"d":-0.25,"e":0.1,"f":-0.3,"g":0.1,"h":0.45},
{"t":1878,"a":0.25,"b":0.2,"c":0.35,"d":-0.1,"e":0.3,"f":0.3,"g":0.25,"h":0.6},
{"t":1881,"a":0.2,"b":0.1,"c":0.3,"d":-0.2,"e":0.2,"f":0.25,"g":0.15,"h":0.3},
{"t":1883,"a":0.1,"b":0.05,"c":0.15,"d":-0.3,"e":0.1,"f":0.1,"g":0.05,"h":0.0},
{"t":1884,"a":-2.4,"b":-2.3,"c":-2.9,"d":-2.5,"e":-2.4,"f":-2.35,"g":-2.3,"h":-2.45},
{"t":1885,"a":-0.4,"b":-0.45,"c":-0.35,"d":-0.6,"e":-0.45,"f":-0.4,"g":-0.5,"h":-0.6},
{"t":1887,"a":0.25,"b":0.2,"c":0.3,"d":-0.05,"e":0.2,"f":0.3,"g":0.2,"h":0.1},
{"t":1890,"a":0.2,"b":0.15,"c":0.4,"d":-0.1,"e":0.25,"f":0.2,"g":0.25,"h":-0.5},
{"t":1893,"a":0.15,"b":0.1,"c":0.25,"d":-0.05,"e":0.15,"f":0.2,"g":0.1,"h":0.3},
{"t":1896,"a":0.3,"b":0.2,"c":0.4,"d":0.0,"e":0.25,"f":0.15,"g":0.3,"h":0.1},
{"t":1899,"a":0.25,"b":0.3,"c":0.35,"d":0.0,"e":0.3,"f":0.5,"g":0.2,"h":0.35},
{"t":1902,"a":0.1,"b":0.05,"c":0.2,"d":-0.1,"e":0.1,"f":0.2,"g":0.05,"h":0.1},
{"t":1903,"a":-0.6,"b":-0.55,"c":-0.5,"d":-1.15,"e":-0.6,"f":-0.5,"g":-0.7,"h":-0.65},
{"t":1904,"a":-0.1,"b":-0.15,"c":-0.05,"d":-0.45,"e":-0.1,"f":-0.05,"g":-0.2,"h":-0.15},
{"t":1906,"a":0.25,"b":0.2,"c":0.3,"d":0.0,"e":0.25,"f":0.45,"g":0.2,"h":0.4},
{"t":1909,"a":0.3,"b":0.15,"c":0.3,"d":0.0,"e":0.3,"f":0.4,"g":0.25,"h":0.2},
{"t":1912,"a":0.15,"b":0.1,"c":0.25,"d":-0.1,"e":0.15,"f":0.2,"g":0.1,"h":0.3},
{"t":1913,"a":-0.35,"b":-0.4,"c":-0.3,"d":-1.0,"e":-0.4,"f":-0.3,"g":-0.6,"h":-0.45},
{"t":1914,"a":0.1,"b":0.05,"c":0.2,"d":-0.3,"e":0.1,"f":0.15,"g":0.0,"h":0.2},
{"t":1917,"a":0.3,"b":0.2,"c":0.6,"d":0.0,"e":0.3,"f":0.35,"g":0.25,"h":0.65},
{"t":1920,"a":0.15,"b":0.1,"c":0.3,"d":-0.1,"e":0.2,"f":0.4,"g":0.15,"h":0.1},
{"t":1923,"a":0.1,"b":0.05,"c":0.2,"d":-0.3,"e":0.1,"f":0.15,"g":0.1,"h":0.45},
{"t":1926,"a":0.25,"b":0.15,"c":0.35,"d":-0.1,"e":0.3,"f":0.3,"g":0.2,"h":0.05},
{"t":1929,"a":0.2,"b":0.1,"c":0.25,"d":-0.15,"e":0.2,"f":0.15,"g":0.1,"h":-0.5},
{"t":1932,"a":0.1,"b":0.05,"c":0.3,"d":-0.05,"e":0.25,"f":0.35,"g":0.2,"h":0.4},
{"t":1935,"a":0.3,"b":0.15,"c":0.4,"d":0.0,"e":0.35,"f":0.2,"g":0.25,"h":0.1},
{"t":1938,"a":0.2,"b":0.1,"c":0.3,"d":-0.1,"e":0.25,"f":0.4,"g":0.15,"h":0.3},
{"t":1941,"a":0.45,"b":0.2,"c":0.45,"d":0.0,"e":0.4,"f":0.3,"g":0.3,"h":0.15},
{"t":1944,"a":0.25,"b":0.15,"c":0.35,"d":-0.05,"e":0.3,"f":0.6,"g":0.25,"h":0.4},
{"t":1947,"a":0.3,"b":0.1,"c":0.3,"d":-0.3,"e":0.35,"f":0.2,"g":0.2,"h":-0.2},
{"t":1950,"a":0.2,"b":0.1,"c":0.25,"d":-0.05,"e":0.2,"f":0.3,"g":0.15,"h":0.35},
{"t":1953,"a":0.25,"b":0.15,"c":0.35,"d":0.0,"e":0.3,"f":0.2,"g":0.25,"h":-0.15},
{"t":1956,"a":0.3,"b":0.2,"c":0.4,"d":0.05,"e":0.35,"f":0.35,"g":0.3,"h":0.25},
{"t":1959,"a":0.35,"b":0.25,"c":0.5,"d":0.1,"e":0.45,"f":0.3,"g":0.35,"h":0.45},
{"t":1962,"a":0.2,"b":0.15,"c":0.3,"d":0.0,"e":0.25,"f":0.2,"g":0.2,"h":0.15},
{"t":1963,"a":-0.2,"b":-0.25,"c":-0.15,"d":-0.4,"e":-0.2,"f":-0.2,"g":-0.3,"h":-0.3},
{"t":1964,"a":-1.2,"b":-1.25,"c":-1.15,"d":-1.8,"e":-1.2,"f":-1.1,"g":-1.4,"h":-1.0},
{"t":1965,"a":-0.4,"b":-0.45,"c":-0.35,"d":-0.7,"e":-0.4,"f":-0.35,"g":-0.5,"h":-0.7},
{"t":1967,"a":0.1,"b":0.05,"c":0.2,"d":-0.2,"e":0.1,"f":0.1,"g":0.05,"h":-0.15},
{"t":1970,"a":0.25,"b":0.2,"c":0.35,"d":0.0,"e":0.3,"f":0.25,"g":0.2,"h":0.35},
{"t":1973,"a":0.15,"b":0.1,"c":0.25,"d":-0.1,"e":0.2,"f":0.15,"g":0.0,"h":0.1},
{"t":1976,"a":0.3,"b":0.2,"c":0.35,"d":0.05,"e":0.3,"f":0.3,"g":-0.3,"h":0.2},
{"t":1979,"a":0.25,"b":0.2,"c":0.4,"d":0.0,"e":0.45,"f":0.3,"g":0.25,"h":0.35},
{"t":1982,"a":0.2,"b":0.15,"c":0.3,"d":0.0,"e":0.25,"f":0.2,"g":0.15,"h":0.1},
{"t":1983,"a":-0.55,"b":-0.6,"c":-0.5,"d":-0.88,"e":-0.55,"f":-0.5,"g":-0.65,"h":-0.6},
{"t":1984,"a":-0.2,"b":-0.25,"c":-0.15,"d":-0.4,"e":-0.2,"f":-0.2,"g":-0.25,"h":-0.3},
{"t":1986,"a":0.2,"b":0.15,"c":0.25,"d":-0.05,"e":0.2,"f":0.2,"g":0.1,"h":0.15},
{"t":1989,"a":0.3,"b":0.25,"c":0.5,"d":0.1,"e":0.35,"f":0.3,"g":0.3,"h":0.2},
{"t":1991,"a":0.1,"b":0.05,"c":0.15,"d":-0.15,"e":0.1,"f":0.05,"g":0.0,"h":0.05},
{"t":1992,"a":-1.7,"b":-1.8,"c":-2.4,"d":-1.95,"e":-1.75,"f":-1.7,"g":-1.8,"h":-1.5},
{"t":1993,"a":-0.3,"b":-0.35,"c":-0.3,"d":-0.5,"e":-0.35,"f":-0.3,"g":-0.4,"h":-0.4},
{"t":1995,"a":0.3,"b":0.25,"c":0.35,"d":0.1,"e":0.3,"f":0.3,"g":0.2,"h":0.25},
{"t":1998,"a":0.2,"b":0.15,"c":0.3,"d":0.0,"e":0.25,"f":0.25,"g":0.15,"h":-0.1},
{"t":2001,"a":0.3,"b":0.25,"c":0.35,"d":0.0,"e":0.3,"f":0.5,"g":0.25,"h":0.45},
{"t":2004,"a":0.15,"b":0.1,"c":0.2,"d":-0.1,"e":0.2,"f":0.1,"g":0.05,"h":0.1},
{"t":2007,"a":0.25,"b":0.15,"c":0.4,"d":-0.05,"e":0.25,"f":0.3,"g":0.2,"h":0.0},
{"t":2010,"a":0.2,"b":0.1,"c":0.35,"d":-0.3,"e":0.2,"f":0.25,"g":0.15,"h":0.3},
{"t":2013,"a":0.35,"b":0.2,"c":0.3,"d":0.0,"e":0.3,"f":0.2,"g":0.25,"h":0.1},
{"t":2014,"a":0.3,"b":0.15,"c":0.25,"d":-0.05,"e":0.2,"f":0.15,"g":0.2,"h":0.2},
{"t":2016,"a":0.45,"c":0.35,"d":0.0,"e":0.3,"f":0.25,"g":0.2,"h":-0.2},
{"t":2019,"a":0.3,"c":0.15,"d":-0.2,"e":0.2,"f":0.1,"g":0.05,"h":0.25},
{"t":2022,"a":0.6,"c":0.2,"d":-0.1,"e":0.2,"f":0.15,"g":0.1,"h":-0.5},
{"t":2025,"a":0.35,"c":0.1,"d":-0.25,"e":0.1,"f":0.05,"g":0.15,"h":0.2},
{"t":2028,"a":0.55,"c":0.25,"d":-0.1,"e":0.2,"f":0.2,"g":0.1,"h":-0.1},
{"t":2031,"a":0.3,"c":0.15,"d":-0.2,"e":0.1,"f":0.1,"g":0.15,"h":0.25},
{"t":2034,"a":0.5,"c":0.2,"d":-0.05,"e":0.15,"f":0.05,"g":0.1,"h":-0.3},
{"t":2037,"a":0.25,"c":0.1,"d":-0.15,"e":0.2,"f":0.15,"g":0.0,"h":0.15},
{"t":2040,"a":0.55,"c":0.25,"d":-0.1,"e":0.1,"f":0.1,"g":0.1,"h":-0.15},
{"t":2043,"a":0.35,"c":0.15,"d":-0.2,"e":0.2,"f":0.15,"g":0.15,"h":0.3},
{"t":2046,"a":0.5,"c":0.3,"d":0.0,"e":0.15,"f":0.1,"g":0.05,"h":-0.1},
{"t":2049,"a":0.65,"c":0.2,"d":-0.15,"e":0.2,"f":0.05,"g":0.1,"h":0.2},
{"t":2052,"a":0.35,"c":0.15,"d":-0.1,"e":0.1,"f":0.2,"g":0.05,"h":-0.2},
{"t":2055,"a":0.5,"c":0.2,"d":-0.5,"e":0.15,"f":0.1,"g":0.1,"h":0.15},
{"t":2058,"a":0.4,"c":0.25,"d":-0.05,"e":0.2,"f":0.1,"g":-0.15,"h":-0.25},
{"t":2061,"a":0.3,"c":0.1,"d":-0.2,"e":0.15,"f":0.15,"g":0.05,"h":0.2},
{"t":2064,"a":0.65,"c":0.2,"d":-0.1,"e":0.1,"f":0.1,"g":0.1,"h":-0.1},
{"t":2067,"a":0.35,"c":0.15,"d":-0.15,"e":0.2,"f":0.05,"g":0.15,"h":0.25},
{"t":2070,"a":0.45,"c":0.25,"d":-0.05,"e":0.15,"f":0.1,"g":0.05,"h":-0.15},
{"t":2073,"a":0.3,"c":0.2,"d":-0.2,"e":0.1,"f":0.15,"g":0.1,"h":0.2},
{"t":2076,"a":0.35,"c":0.15,"d":-0.1,"e":0.2,"f":0.05,"g":0.0,"h":-0.3},
{"t":2079,"a":0.25,"c":0.2,"d":-0.15,"e":0.15,"f":0.1,"g":0.15,"h":0.75},
{"t":2082,"a":0.45,"c":0.1,"d":-0.3,"e":0.1,"f":0.05,"g":0.1,"h":-0.15},
{"t":2085,"a":0.3,"c":0.25,"d":-0.05,"e":0.2,"f":0.15,"g":0.05,"h":0.1},
{"t":2088,"a":0.2,"c":-0.25,"d":-0.2,"e":0.15,"f":0.1,"g":0.1,"h":0.25},
{"t":2091,"a":0.35,"c":0.15,"d":-0.1,"e":0.1,"f":0.05,"g":0.15,"h":-0.1},
{"t":2094,"a":0.3,"c":0.2,"d":-0.05,"e":0.15,"f":0.1,"g":0.05,"h":0.15},
{"t":2097,"a":0.2,"c":0.1,"d":-0.15,"e":0.1,"f":0.0,"g":0.0,"h":-0.2},
{"t":2100,"a":0.25,"c":0.05,"d":-0.1,"e":0.05,"f":-0.05,"g":0.0,"h":-0.35}]
},
"columns":2,
"spacing":{"row":80,"column":104},
"bounds":"flush",
"resolve":{"scale":{"color":"independent"},"legend":{"color":"independent"}},
"concat":[
{"title":"histall","width":560,"height":253,"data":{"name":"all"},
"transform":[{"fold":["a","b","c","d","e","f","g","h"],"as":["k","v"]},{"lookup":"k","from":{"data":{"name":"mods"},"key":"k","fields":["model"]}}],
"layer":[
{"mark":{"type":"line","strokeWidth":2,"clip":true},
"encoding":{
"x":{"field":"t","type":"quantitative","scale":{"domain":[1850,2101],"nice":false,"zero":false},"axis":{"orient":"bottom","title":null,"format":"d","labelOverlap":false,"values":[1850,1900,1950,2000,2050,2100],"tickSize":-7,"labelPadding":13}},
"y":{"field":"v","type":"quantitative","scale":{"domain":[-3.25,6.46],"nice":false,"zero":false},"axis":{"orient":"left","title":"W m⁻²","titlePadding":21,"format":"d","labelOverlap":false,"values":[-2,0,2,4,6],"tickSize":-7,"labelPadding":16}},
"color":{"field":"model","type":"nominal","scale":{"domain":["CanESM5","CNRM-CM6-1","GFDL-CM4","GISS-E2-1-G","HadGEM3-GC31-LL","IPSL-CM6A-LR","MIROC6","NorESM2-LM"],"range":["#1f77b4","#ff7f0e","#2ca02c","#d62728","#9467bd","#8c564b","#e377c2","#7f7f7f"]},"legend":null}}},
{"mark":{"type":"line","strokeOpacity":0},
"encoding":{
"x":{"field":"t","type":"quantitative","scale":{"domain":[1850,2101],"nice":false,"zero":false},"axis":{"orient":"top","title":null,"labels":false,"values":[1850,1900,1950,2000,2050,2100],"tickSize":-7}},
"y":{"field":"v","type":"quantitative","scale":{"domain":[-3.25,6.46],"nice":false,"zero":false},"axis":{"orient":"right","title":null,"labels":false,"values":[-2,0,2,4,6],"tickSize":-7}},
"detail":{"field":"k"}}},
{"mark":{"type":"line","strokeOpacity":0},
"encoding":{
"x":{"field":"t","type":"quantitative","scale":{"domain":[1850,2101],"nice":false,"zero":false},"axis":{"orient":"bottom","title":null,"labels":false,"domain":false,"values":[1860,1870,1880,1890,1910,1920,1930,1940,1960,1970,1980,1990,2010,2020,2030,2040,2060,2070,2080,2090],"tickSize":-4}},
"y":{"field":"v","type":"quantitative","scale":{"domain":[-3.25,6.46],"nice":false,"zero":false},"axis":{"orient":"left","title":null,"labels":false,"domain":false,"values":[-3,-2.5,-1.5,-1,-0.5,0.5,1,1.5,2.5,3,3.5,4.5,5,5.5],"tickSize":-4}},
"detail":{"field":"k"}}},
{"mark":{"type":"line","strokeOpacity":0},
"encoding":{
"x":{"field":"t","type":"quantitative","scale":{"domain":[1850,2101],"nice":false,"zero":false},"axis":{"orient":"top","title":null,"labels":false,"domain":false,"values":[1860,1870,1880,1890,1910,1920,1930,1940,1960,1970,1980,1990,2010,2020,2030,2040,2060,2070,2080,2090],"tickSize":-4}},
"y":{"field":"v","type":"quantitative","scale":{"domain":[-3.25,6.46],"nice":false,"zero":false},"axis":{"orient":"right","title":null,"labels":false,"domain":false,"values":[-3,-2.5,-1.5,-1,-0.5,0.5,1,1.5,2.5,3,3.5,4.5,5,5.5],"tickSize":-4}},
"detail":{"field":"k"}}}],
"resolve":{"axis":{"x":"independent","y":"independent"}}},
{"title":"histghg","width":561,"height":253,"data":{"name":"ghg"},
"transform":[{"fold":["a","b","c","d","e","f","g","h"],"as":["k","v"]},{"lookup":"k","from":{"data":{"name":"mods"},"key":"k","fields":["model"]}}],
"layer":[
{"mark":{"type":"line","strokeWidth":2,"clip":true},
"encoding":{
"x":{"field":"t","type":"quantitative","scale":{"domain":[1850,2101],"nice":false,"zero":false},"axis":{"orient":"bottom","title":null,"format":"d","labelOverlap":false,"values":[1850,1900,1950,2000,2050,2100],"tickSize":-7,"labelPadding":13}},
"y":{"field":"v","type":"quantitative","scale":{"domain":[-1.0,6.16],"nice":false,"zero":false},"axis":{"orient":"left","title":"W m⁻²","titlePadding":21,"format":"d","labelOverlap":false,"values":[0,2,4,6],"tickSize":-7,"labelPadding":16}},
"color":{"field":"model","type":"nominal","scale":{"domain":["CanESM5","CNRM-CM6-1","GFDL-CM4","GISS-E2-1-G","HadGEM3-GC31-LL","IPSL-CM6A-LR","MIROC6","NorESM2-LM"],"range":["#1f77b4","#ff7f0e","#2ca02c","#d62728","#9467bd","#8c564b","#e377c2","#7f7f7f"]},
"legend":{"orient":"none","legendX":20,"legendY":10,"title":null,"symbolType":"M-2,0L2,0","symbolSize":256,"symbolStrokeWidth":2.5,"labelFontSize":12.5,"labelFont":"Liberation Sans","labelColor":"#000","labelOffset":17.5,"rowPadding":5.5,"padding":0}}}},
{"mark":{"type":"line","strokeOpacity":0},
"encoding":{
"x":{"field":"t","type":"quantitative","scale":{"domain":[1850,2101],"nice":false,"zero":false},"axis":{"orient":"top","title":null,"labels":false,"values":[1850,1900,1950,2000,2050,2100],"tickSize":-7}},
"y":{"field":"v","type":"quantitative","scale":{"domain":[-1.0,6.16],"nice":false,"zero":false},"axis":{"orient":"right","title":null,"labels":false,"values":[0,2,4,6],"tickSize":-7}},
"detail":{"field":"k"}}},
{"mark":{"type":"line","strokeOpacity":0},
"encoding":{
"x":{"field":"t","type":"quantitative","scale":{"domain":[1850,2101],"nice":false,"zero":false},"axis":{"orient":"bottom","title":null,"labels":false,"domain":false,"values":[1860,1870,1880,1890,1910,1920,1930,1940,1960,1970,1980,1990,2010,2020,2030,2040,2060,2070,2080,2090],"tickSize":-4}},
"y":{"field":"v","type":"quantitative","scale":{"domain":[-1.0,6.16],"nice":false,"zero":false},"axis":{"orient":"left","title":null,"labels":false,"domain":false,"values":[-0.5,0.5,1,1.5,2.5,3,3.5,4.5,5,5.5],"tickSize":-4}},
"detail":{"field":"k"}}},
{"mark":{"type":"line","strokeOpacity":0},
"encoding":{
"x":{"field":"t","type":"quantitative","scale":{"domain":[1850,2101],"nice":false,"zero":false},"axis":{"orient":"top","title":null,"labels":false,"domain":false,"values":[1860,1870,1880,1890,1910,1920,1930,1940,1960,1970,1980,1990,2010,2020,2030,2040,2060,2070,2080,2090],"tickSize":-4}},
"y":{"field":"v","type":"quantitative","scale":{"domain":[-1.0,6.16],"nice":false,"zero":false},"axis":{"orient":"right","title":null,"labels":false,"domain":false,"values":[-0.5,0.5,1,1.5,2.5,3,3.5,4.5,5,5.5],"tickSize":-4}},
"detail":{"field":"k"}}}],
"resolve":{"axis":{"x":"independent","y":"independent"}}},
{"title":"histaer","width":560,"height":253,"data":{"name":"aer"},
"transform":[{"fold":["a","b","c","d","e","f","g","h"],"as":["k","v"]},{"lookup":"k","from":{"data":{"name":"mods"},"key":"k","fields":["model"]}}],
"layer":[
{"mark":{"type":"line","strokeWidth":2,"clip":true},
"encoding":{
"x":{"field":"t","type":"quantitative","scale":{"domain":[1850,2101],"nice":false,"zero":false},"axis":{"orient":"bottom","title":null,"format":"d","labelOverlap":false,"values":[1850,1900,1950,2000,2050,2100],"tickSize":-7,"labelPadding":13}},
"y":{"field":"v","type":"quantitative","scale":{"domain":[-1.9,0.38],"nice":false,"zero":false},"axis":{"orient":"left","title":"W m⁻²","titlePadding":21,"format":".1f","labelOverlap":false,"values":[-1.5,-1.0,-0.5,0],"tickSize":-7,"labelPadding":16}},
"color":{"field":"model","type":"nominal","scale":{"domain":["CanESM5","CNRM-CM6-1","GFDL-CM4","GISS-E2-1-G","HadGEM3-GC31-LL","IPSL-CM6A-LR","MIROC6","NorESM2-LM"],"range":["#1f77b4","#ff7f0e","#2ca02c","#d62728","#9467bd","#8c564b","#e377c2","#7f7f7f"]},"legend":null}}},
{"mark":{"type":"line","strokeOpacity":0},
"encoding":{
"x":{"field":"t","type":"quantitative","scale":{"domain":[1850,2101],"nice":false,"zero":false},"axis":{"orient":"top","title":null,"labels":false,"values":[1850,1900,1950,2000,2050,2100],"tickSize":-7}},
"y":{"field":"v","type":"quantitative","scale":{"domain":[-1.9,0.38],"nice":false,"zero":false},"axis":{"orient":"right","title":null,"labels":false,"values":[-1.5,-1.0,-0.5,0],"tickSize":-7}},
"detail":{"field":"k"}}},
{"mark":{"type":"line","strokeOpacity":0},
"encoding":{
"x":{"field":"t","type":"quantitative","scale":{"domain":[1850,2101],"nice":false,"zero":false},"axis":{"orient":"bottom","title":null,"labels":false,"domain":false,"values":[1860,1870,1880,1890,1910,1920,1930,1940,1960,1970,1980,1990,2010,2020,2030,2040,2060,2070,2080,2090],"tickSize":-4}},
"y":{"field":"v","type":"quantitative","scale":{"domain":[-1.9,0.38],"nice":false,"zero":false},"axis":{"orient":"left","title":null,"labels":false,"domain":false,"values":[-1.9,-1.8,-1.7,-1.6,-1.4,-1.3,-1.2,-1.1,-0.9,-0.8,-0.7,-0.6,-0.4,-0.3,-0.2,-0.1,0.1,0.2,0.3],"tickSize":-4}},
"detail":{"field":"k"}}},
{"mark":{"type":"line","strokeOpacity":0},
"encoding":{
"x":{"field":"t","type":"quantitative","scale":{"domain":[1850,2101],"nice":false,"zero":false},"axis":{"orient":"top","title":null,"labels":false,"domain":false,"values":[1860,1870,1880,1890,1910,1920,1930,1940,1960,1970,1980,1990,2010,2020,2030,2040,2060,2070,2080,2090],"tickSize":-4}},
"y":{"field":"v","type":"quantitative","scale":{"domain":[-1.9,0.38],"nice":false,"zero":false},"axis":{"orient":"right","title":null,"labels":false,"domain":false,"values":[-1.9,-1.8,-1.7,-1.6,-1.4,-1.3,-1.2,-1.1,-0.9,-0.8,-0.7,-0.6,-0.4,-0.3,-0.2,-0.1,0.1,0.2,0.3],"tickSize":-4}},
"detail":{"field":"k"}}}],
"resolve":{"axis":{"x":"independent","y":"independent"}}},
{"title":"histnat","width":561,"height":253,"data":{"name":"nat"},
"transform":[{"fold":["a","b","c","d","e","f","g","h"],"as":["k","v"]},{"lookup":"k","from":{"data":{"name":"mods"},"key":"k","fields":["model"]}}],
"layer":[
{"mark":{"type":"line","strokeWidth":2,"clip":true},
"encoding":{
"x":{"field":"t","type":"quantitative","scale":{"domain":[1850,2101],"nice":false,"zero":false},"axis":{"orient":"bottom","title":null,"format":"d","labelOverlap":false,"values":[1850,1900,1950,2000,2050,2100],"tickSize":-7,"labelPadding":13}},
"y":{"field":"v","type":"quantitative","scale":{"domain":[-3.1,0.93],"nice":false,"zero":false},"axis":{"orient":"left","title":"W m⁻²","titlePadding":21,"format":"d","labelOverlap":false,"values":[-3,-2,-1,0],"tickSize":-7,"labelPadding":16}},
"color":{"field":"model","type":"nominal","scale":{"domain":["CanESM5","CNRM-CM6-1","GFDL-CM4","GISS-E2-1-G","HadGEM3-GC31-LL","IPSL-CM6A-LR","MIROC6","NorESM2-LM"],"range":["#1f77b4","#ff7f0e","#2ca02c","#d62728","#9467bd","#8c564b","#e377c2","#7f7f7f"]},"legend":null}}},
{"mark":{"type":"line","strokeOpacity":0},
"encoding":{
"x":{"field":"t","type":"quantitative","scale":{"domain":[1850,2101],"nice":false,"zero":false},"axis":{"orient":"top","title":null,"labels":false,"values":[1850,1900,1950,2000,2050,2100],"tickSize":-7}},
"y":{"field":"v","type":"quantitative","scale":{"domain":[-3.1,0.93],"nice":false,"zero":false},"axis":{"orient":"right","title":null,"labels":false,"values":[-3,-2,-1,0],"tickSize":-7}},
"detail":{"field":"k"}}},
{"mark":{"type":"line","strokeOpacity":0},
"encoding":{
"x":{"field":"t","type":"quantitative","scale":{"domain":[1850,2101],"nice":false,"zero":false},"axis":{"orient":"bottom","title":null,"labels":false,"domain":false,"values":[1860,1870,1880,1890,1910,1920,1930,1940,1960,1970,1980,1990,2010,2020,2030,2040,2060,2070,2080,2090],"tickSize":-4}},
"y":{"field":"v","type":"quantitative","scale":{"domain":[-3.1,0.93],"nice":false,"zero":false},"axis":{"orient":"left","title":null,"labels":false,"domain":false,"values":[-2.8,-2.6,-2.4,-2.2,-1.8,-1.6,-1.4,-1.2,-0.8,-0.6,-0.4,-0.2,0.2,0.4,0.6,0.8],"tickSize":-4}},
"detail":{"field":"k"}}},
{"mark":{"type":"line","strokeOpacity":0},
"encoding":{
"x":{"field":"t","type":"quantitative","scale":{"domain":[1850,2101],"nice":false,"zero":false},"axis":{"orient":"top","title":null,"labels":false,"domain":false,"values":[1860,1870,1880,1890,1910,1920,1930,1940,1960,1970,1980,1990,2010,2020,2030,2040,2060,2070,2080,2090],"tickSize":-4}},
"y":{"field":"v","type":"quantitative","scale":{"domain":[-3.1,0.93],"nice":false,"zero":false},"axis":{"orient":"right","title":null,"labels":false,"domain":false,"values":[-2.8,-2.6,-2.4,-2.2,-1.8,-1.6,-1.4,-1.2,-0.8,-0.6,-0.4,-0.2,0.2,0.4,0.6,0.8],"tickSize":-4}},
"detail":{"field":"k"}}}],
"resolve":{"axis":{"x":"independent","y":"independent"}}}
]
}
